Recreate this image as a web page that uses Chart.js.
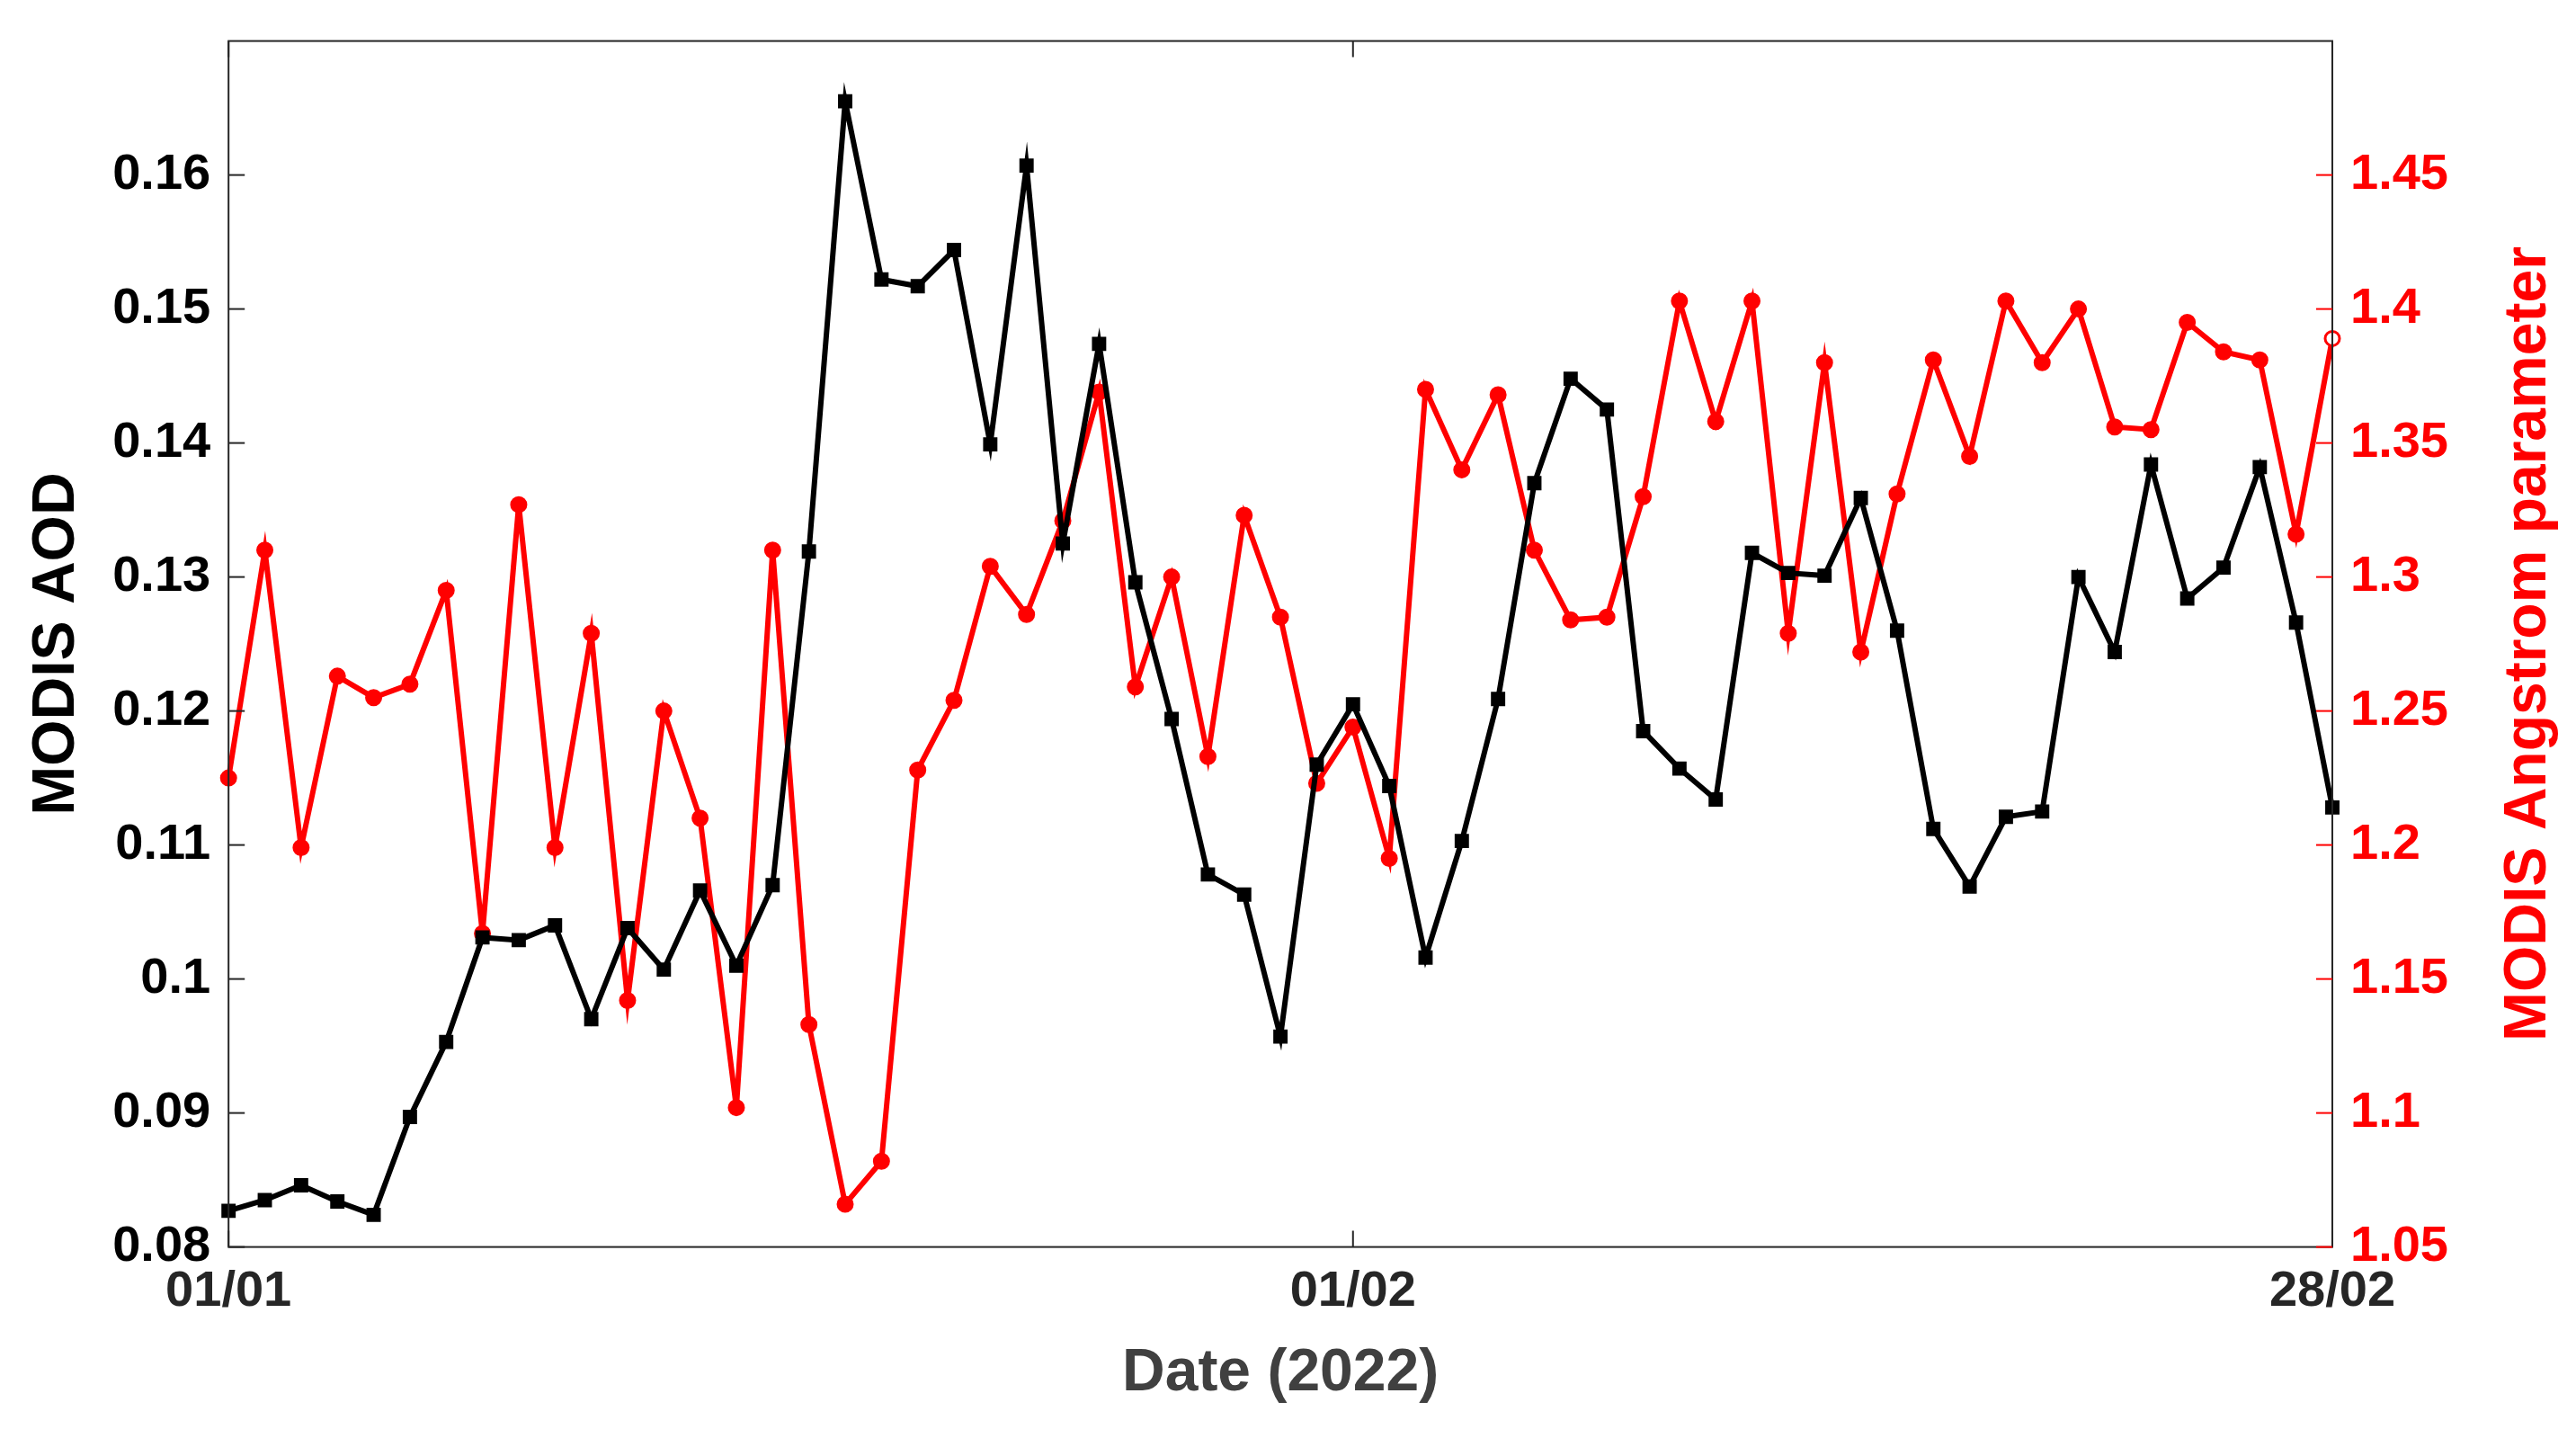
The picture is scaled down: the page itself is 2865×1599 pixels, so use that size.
<!DOCTYPE html>
<html><head><meta charset="utf-8">
<script src="https://cdn.jsdelivr.net/npm/chart.js@4"></script>
<style>html,body{margin:0;padding:0;background:#fff}</style>
</head><body>
<canvas id="c" width="2865" height="1599"></canvas>
<script>
const days = Array.from({length:59},(_,i)=>i);
const xTickLabels = {0:'01/01',31:'01/02',58:'28/02'};
const aod = [0.0827,0.0835,0.0846,0.0834,0.0824,0.0897,0.0953,0.1031,0.1029,0.1040,0.0970,0.1038,0.1007,0.1066,0.1010,0.1070,0.1319,0.1655,0.1522,0.1517,0.1544,0.1399,0.1607,0.1325,0.1474,0.1296,0.1194,0.1078,0.1063,0.0957,0.1160,0.1205,0.1144,0.1016,0.1103,0.1209,0.1370,0.1448,0.1425,0.1185,0.1157,0.1134,0.1318,0.1303,0.1301,0.1359,0.1260,0.1112,0.1069,0.1121,0.1125,0.1300,0.1244,0.1384,0.1284,0.1307,0.1382,0.1266,0.1128];
const angstrom = [1.225,1.310,1.199,1.263,1.255,1.260,1.295,1.167,1.327,1.199,1.279,1.142,1.250,1.210,1.102,1.310,1.133,1.066,1.082,1.228,1.254,1.304,1.286,1.321,1.369,1.259,1.300,1.233,1.323,1.285,1.223,1.244,1.195,1.370,1.340,1.368,1.310,1.284,1.285,1.330,1.403,1.358,1.403,1.279,1.380,1.272,1.331,1.381,1.345,1.403,1.380,1.400,1.356,1.355,1.395,1.384,1.381,1.316,1.389];
const F = "'Liberation Sans', Arial, sans-serif";
const fmt = v => String(+v.toFixed(3));
const inTicks = {
  id:'inTicks',
  afterDatasetsDraw(ch){
    const {ctx,chartArea:a,scales:s}=ch;
    ctx.save();ctx.strokeStyle='#262626';ctx.lineWidth=2;
    ctx.strokeRect(a.left,a.top,a.right-a.left,a.bottom-a.top);
    const L=18;
    s.x.ticks.forEach(t=>{const p=s.x.getPixelForValue(t.value);ctx.beginPath();ctx.moveTo(p,a.bottom);ctx.lineTo(p,a.bottom-L);ctx.moveTo(p,a.top);ctx.lineTo(p,a.top+L);ctx.stroke();});
    s.y.ticks.forEach(t=>{const p=s.y.getPixelForValue(t.value);ctx.beginPath();ctx.moveTo(a.left,p);ctx.lineTo(a.left+L,p);ctx.stroke();});
    ctx.strokeStyle='#ff0000';
    s.y2.ticks.forEach(t=>{const p=s.y2.getPixelForValue(t.value);ctx.beginPath();ctx.moveTo(a.right,p);ctx.lineTo(a.right-L,p);ctx.stroke();});
    ctx.translate(2813,(a.top+a.bottom)/2);ctx.rotate(-Math.PI/2);
    ctx.fillStyle='#ff0000';ctx.font="bold 66px "+F;ctx.textAlign='center';ctx.textBaseline='middle';
    ctx.fillText('MODIS Angstrom parameter',0,0);
    ctx.restore();
  }
};
new Chart(document.getElementById('c'),{
  type:'line',
  data:{datasets:[
    {data:days.map((d,i)=>({x:d,y:aod[i]})),borderColor:'#000',backgroundColor:'#000',borderWidth:6,pointStyle:'rect',pointRadius:7,yAxisID:'y',tension:0,clip:false},
    {data:days.map((d,i)=>({x:d,y:angstrom[i]})),borderColor:'#ff0000',backgroundColor:days.map(d=>d===58?'#fff':'#ff0000'),borderWidth:6,pointRadius:8,pointBorderWidth:3,yAxisID:'y2',tension:0,clip:false}
  ]},
  plugins:[inTicks],
  options:{
    responsive:false,animation:false,
    layout:{padding:{top:28,right:130,bottom:28,left:20}},
    plugins:{legend:{display:false},tooltip:{enabled:false}},
    scales:{
      x:{type:'linear',min:0,max:58,
        afterBuildTicks:s=>{s.ticks=[0,31,58].map(v=>({value:v}));},
        ticks:{callback:v=>xTickLabels[v]||'',color:'#262626',font:{family:F,size:56,weight:'bold'},maxRotation:0,padding:8},
        grid:{display:false},border:{display:false},
        title:{display:true,text:'Date (2022)',color:'#404040',font:{family:F,size:66,weight:'bold'},padding:{top:10}}},
      y:{position:'left',min:0.08,max:0.17,
        afterBuildTicks:s=>{s.ticks=[0.08,0.09,0.10,0.11,0.12,0.13,0.14,0.15,0.16].map(v=>({value:v}));},
        ticks:{callback:fmt,color:'#000',font:{family:F,size:56,weight:'bold'},padding:12},
        grid:{display:false},border:{display:false},
        title:{display:true,text:'MODIS AOD',color:'#000',font:{family:F,size:66,weight:'bold'},padding:{bottom:10}}},
      y2:{position:'right',min:1.05,max:1.5,
        afterBuildTicks:s=>{s.ticks=[1.05,1.1,1.15,1.2,1.25,1.3,1.35,1.4,1.45].map(v=>({value:v}));},
        ticks:{callback:fmt,color:'#ff0000',font:{family:F,size:56,weight:'bold'},padding:12},
        grid:{display:false},border:{display:false}}
    }
  }
});
</script>
</body></html>
